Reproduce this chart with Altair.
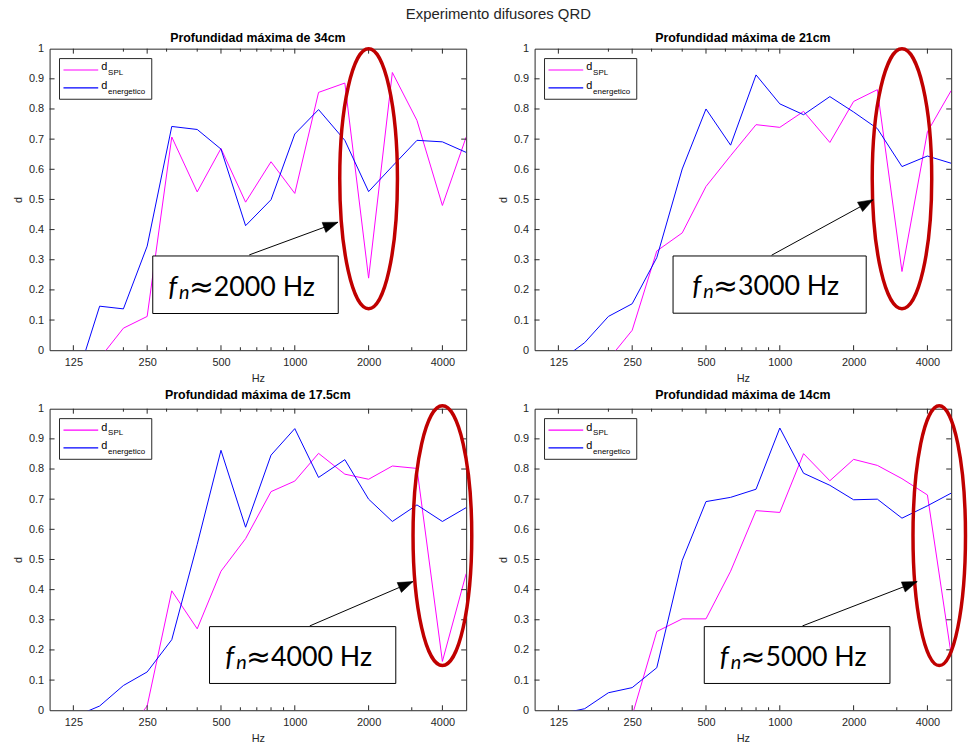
import altair as alt
import pandas as pd

# ---------------- data ----------------
freqs = [100, 125, 160, 200, 250, 315, 400, 500, 630, 800, 1000, 1250, 1600, 2000, 2500, 3150, 4000, 5000]

titles = ["Profundidad máxima de 34cm", "Profundidad máxima de 21cm",
          "Profundidad máxima de 17.5cm", "Profundidad máxima de 14cm"]

spl_34 = [-0.20, -0.10, -0.027, 0.073, 0.112, 0.707, 0.525, 0.669, 0.491, 0.625, 0.520, 0.855, 0.886, 0.239, 0.921, 0.762, 0.480, 0.707]
en_34 = [-0.25, -0.13, 0.146, 0.137, 0.345, 0.742, 0.732, 0.667, 0.413, 0.499, 0.717, 0.798, 0.696, 0.526, 0.610, 0.696, 0.691, 0.656]

spl_21 = [-0.30, -0.20, -0.12, -0.031, 0.066, 0.329, 0.389, 0.543, 0.645, 0.748, 0.739, 0.792, 0.689, 0.825, 0.864, 0.261, 0.724, 0.861]
en_21 = [-0.10, -0.04, 0.025, 0.112, 0.154, 0.307, 0.601, 0.800, 0.680, 0.913, 0.817, 0.781, 0.841, 0.790, 0.735, 0.609, 0.644, 0.620]

spl_175 = [-0.30, -0.25, -0.18, -0.086, 0.014, 0.396, 0.270, 0.461, 0.569, 0.725, 0.760, 0.852, 0.783, 0.766, 0.810, 0.802, 0.162, 0.453]
en_175 = [-0.06, -0.023, 0.014, 0.082, 0.127, 0.234, 0.550, 0.862, 0.607, 0.846, 0.934, 0.772, 0.831, 0.700, 0.626, 0.681, 0.626, 0.672]

spl_14 = [-0.40, -0.30, -0.22, -0.15, -0.018, 0.261, 0.303, 0.303, 0.461, 0.662, 0.656, 0.851, 0.761, 0.832, 0.812, 0.768, 0.714, 0.184]
en_14 = [-0.05, -0.013, 0.005, 0.058, 0.075, 0.141, 0.497, 0.692, 0.706, 0.733, 0.936, 0.786, 0.746, 0.698, 0.700, 0.637, 0.678, 0.720]

spl_all = [spl_34, spl_21, spl_175, spl_14]
en_all = [en_34, en_21, en_175, en_14]

x_major = [125, 250, 500, 1000, 2000, 4000]
x_minor = [200, 300, 400, 600, 700, 800, 900, 3000]
y_ticks = [0, 0.1, 0.2, 0.3, 0.4, 0.5, 0.6, 0.7, 0.8, 0.9, 1]

# annotations (in data coordinates)
fn_labels = ["2000 Hz", "3000 Hz", "4000 Hz", "5000 Hz"]
ell_f = [2000, 3150, 4000, 4470]
ell_d = [0.5685, 0.5685, 0.579, 0.579]
arrow_f1 = [652, 926, 1151, 1237]
arrow_d1 = [0.316, 0.315, 0.2796, 0.2796]
arrow_f2 = [1500, 2402, 3033, 3633]
arrow_d2 = [0.4243, 0.499, 0.4266, 0.4266]
box_f1 = [263.5, 367, 449, 492]
box_f2 = [1504, 2251, 2582, 2814]
box_d1 = [0.3125, 0.3125, 0.2773, 0.2773]
box_d2 = [0.1217, 0.1227, 0.0888, 0.0888]

# ---------------- styles ----------------
W, H = 420, 304
AX = "#262626"
FONT = "Liberation Sans"
ANN_FONT = "Lato"
arrow_angles = [339.7, 331.3, 336.7, 338.9]
ell_ratio = [0.222, 0.229, 0.226, 0.202]
ELL_H = 262


def panel(i):
    xs = alt.Scale(type="log", domain=[100, 5000], nice=False)
    ys = alt.Scale(domain=[0, 1], nice=False)
    xaxis = alt.Axis(values=x_major, format="d", title="Hz", labelPadding=6,
                     titlePadding=6, ticks=False, domain=False, grid=False)
    yaxis = alt.Axis(values=y_ticks, format="~g", title="d", labelPadding=6,
                     titlePadding=5, ticks=False, domain=False, grid=False)

    def X(field):
        return alt.X(field, scale=xs, axis=xaxis)

    def Y(field):
        return alt.Y(field, scale=ys, axis=yaxis)

    df = pd.DataFrame({"f": freqs, "spl": spl_all[i], "en": en_all[i]})
    l_spl = alt.Chart(df).mark_line(clip=True, color="#ff00ff", strokeWidth=1).encode(
        x=X("f:Q"), y=Y("spl:Q"))
    l_en = alt.Chart(df).mark_line(clip=True, color="#0000ff", strokeWidth=1).encode(
        x=X("f:Q"), y=Y("en:Q"))

    # inward ticks on all four sides
    tx_major = pd.DataFrame({"t": x_major})
    tx_minor = pd.DataFrame({"t": x_minor})
    ty = pd.DataFrame({"t": y_ticks[1:-1]})
    tick_layers = []
    for tdf, ln in [(tx_major, 5), (tx_minor, 3)]:
        for y0, y1 in [(H, H - ln), (0, ln)]:
            tick_layers.append(
                alt.Chart(tdf).mark_rule(color=AX, strokeWidth=1).encode(
                    x=X("t:Q"), y=alt.value(y0), y2=alt.value(y1)))
    for x0, x1 in [(0, 5), (W, W - 5)]:
        tick_layers.append(
            alt.Chart(ty).mark_rule(color=AX, strokeWidth=1).encode(
                y=Y("t:Q"), x=alt.value(x0), x2=alt.value(x1)))

    one = pd.DataFrame({"k": [0]})
    legend = [
        alt.Chart(one).mark_rect(fill="white", stroke=AX, strokeWidth=1).encode(
            x=alt.value(10), x2=alt.value(103), y=alt.value(10), y2=alt.value(51)),
        alt.Chart(one).mark_rule(color="#ff00ff", strokeWidth=1.2).encode(
            x=alt.value(14), x2=alt.value(49), y=alt.value(21.5)),
        alt.Chart(one).mark_rule(color="#0000ff", strokeWidth=1.2).encode(
            x=alt.value(14), x2=alt.value(49), y=alt.value(39.5)),
        alt.Chart(one).mark_text(text="d", font=FONT, fontSize=11, align="left",
                                 baseline="alphabetic", color="black").encode(
            x=alt.value(52), y=alt.value(22)),
        alt.Chart(one).mark_text(text="SPL", font=FONT, fontSize=8, align="left",
                                 baseline="alphabetic", color="black").encode(
            x=alt.value(59), y=alt.value(27)),
        alt.Chart(one).mark_text(text="d", font=FONT, fontSize=11, align="left",
                                 baseline="alphabetic", color="black").encode(
            x=alt.value(52), y=alt.value(41)),
        alt.Chart(one).mark_text(text="energetico", font=FONT, fontSize=8, align="left",
                                 baseline="alphabetic", color="black").encode(
            x=alt.value(59), y=alt.value(46)),
    ]

    r = ell_ratio[i]
    ell_path = f"M -{r} 0 A {r} 1 0 1 0 {r} 0 A {r} 1 0 1 0 -{r} 0"
    ann = pd.DataFrame({
        "ef": [ell_f[i]], "ed": [ell_d[i]],
        "af1": [arrow_f1[i]], "ad1": [arrow_d1[i]],
        "af2": [arrow_f2[i]], "ad2": [arrow_d2[i]],
        "bf1": [box_f1[i]], "bf2": [box_f2[i]],
        "bd1": [box_d1[i]], "bd2": [box_d2[i]],
        "bfc": [(box_f1[i] * box_f2[i]) ** 0.5], "bdc": [(box_d1[i] + box_d2[i]) / 2],
        "lab": [fn_labels[i]],
    })
    base = alt.Chart(ann)
    annotations = [
        base.mark_point(shape=ell_path, size=ELL_H * ELL_H, filled=False,
                        stroke="#c00000", strokeWidth=3.5, opacity=1, clip=False).encode(
            x=X("ef:Q"), y=Y("ed:Q")),
        base.mark_rule(color="black", strokeWidth=1).encode(
            x=X("af1:Q"), y=Y("ad1:Q"), x2="af2:Q", y2="ad2:Q"),
        base.mark_point(shape="M 0 0 L -1 -0.36 L -1 0.36 Z", size=900, filled=True,
                        fill="black", stroke="black", strokeWidth=0.5, opacity=1,
                        angle=arrow_angles[i]).encode(
            x=X("af2:Q"), y=Y("ad2:Q")),
        base.mark_rect(fill="white", stroke="black", strokeWidth=1).encode(
            x=X("bf1:Q"), x2="bf2:Q", y=Y("bd1:Q"), y2="bd2:Q"),
        base.mark_text(text="f", font=ANN_FONT, fontSize=28, fontStyle="italic",
                       align="left", baseline="alphabetic", dx=-78, dy=11, color="black").encode(
            x=X("bfc:Q"), y=Y("bdc:Q")),
        base.mark_text(text="n", font=ANN_FONT, fontSize=20, fontStyle="italic",
                       align="left", baseline="alphabetic", dx=-67, dy=14, color="black").encode(
            x=X("bfc:Q"), y=Y("bdc:Q")),
        base.mark_text(text="≈", font="DejaVu Sans", fontSize=30, align="left",
                       baseline="alphabetic", dx=-57, dy=12, color="black").encode(
            x=X("bfc:Q"), y=Y("bdc:Q")),
        base.mark_text(font=ANN_FONT, fontSize=27, align="left", baseline="alphabetic",
                       dx=-32, dy=11, color="black").encode(
            x=X("bfc:Q"), y=Y("bdc:Q"), text="lab:N"),
    ]

    return alt.layer(l_spl, l_en, *tick_layers, *legend, *annotations).properties(
        width=W, height=H,
        title=alt.TitleParams(titles[i], fontSize=12.5, fontWeight="bold", font=FONT,
                              color="black", offset=-13, baseline="alphabetic"),
    )


chart = alt.concat(
    *[panel(i) for i in range(4)],
    columns=2,
    spacing={"row": 59, "column": 69},
    bounds="flush",
    title=alt.TitleParams("Experimento difusores QRD", fontSize=15, fontWeight="normal",
                          font=FONT, color=AX, anchor="start", frame="bounds", dx=397,
                          offset=10),
).properties(
    padding={"left": 12, "top": 4, "right": 0, "bottom": 0},
    background="white",
).configure_axis(
    labelFont=FONT, labelFontSize=11, labelColor=AX,
    titleFont=FONT, titleFontSize=11, titleFontWeight="normal", titleColor=AX,
).configure_view(stroke=AX, strokeWidth=1)

chart.save("out.html", embed_options={"renderer": "svg", "actions": False})
